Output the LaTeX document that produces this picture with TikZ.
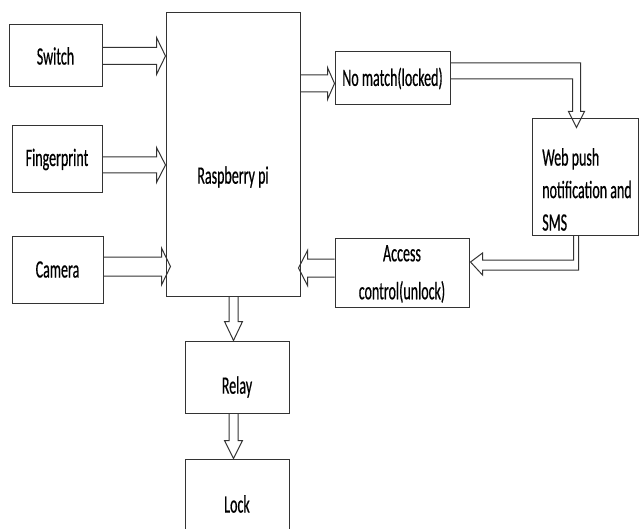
\documentclass[tikz,border=0pt]{standalone}
\usepackage{fontspec}
\setmainfont[FakeStretch=0.56, FakeBold=0.5]{Carlito}
\usetikzlibrary{calc,positioning}

% hollow block arrow: tail, tip, shaft half width, head half width, head length
\newcommand{\blockarrow}[5]{%
  \coordinate (ba_h) at ($(#2)!#5!(#1)$);
  \draw[blk] ($(#1)!#3!90:(#2)$) -- ($(ba_h)!#3!-90:(#1)$) -- ($(ba_h)!#4!-90:(#1)$) -- (#2)
    -- ($(ba_h)!#4!90:(#1)$) -- ($(ba_h)!#3!90:(#1)$) -- ($(#1)!#3!-90:(#2)$);
}

\begin{document}
\begin{tikzpicture}[x=1pt, y=-1pt, font=\fontsize{25}{29}\selectfont,
    box/.style={draw=black!80, line width=1pt},
    blk/.style={draw=black!80, line width=1pt, line join=miter}]
      \useasboundingbox (0,0) rectangle (639,529);

      % inputs
      \node[box, minimum width=93pt, minimum height=62pt] (sw) at (55.5,56) {Switch};
      \node[box, minimum width=90pt, minimum height=67pt] (fp) at (57,159.5) {Fingerprint};
      \node[box, minimum width=91pt, minimum height=67pt] (cam) at (57.5,269.5) {Camera};

      \node[box, minimum width=134pt, minimum height=283pt,
        label={[yshift=-22.5pt]center:Raspberry pi}] (rpi) at (233,154.5) {};

      % right side
      \node[box, minimum width=115pt, minimum height=53pt] (nm) at (392.5,78.5) {No match(locked)};
      \node[box, minimum width=106pt, minimum height=116pt,
        label={[yshift=-12.5pt, xshift=2pt, align=left, font=\fontsize{25}{32.5}\selectfont]center:Web push\\notification and\\SMS}] (wp) at (585,177) {};
      \node[box, minimum width=134pt, minimum height=69pt,
        label={[yshift=-1.5pt, align=center, font=\fontsize{25}{38}\selectfont]center:Access\\control(unlock)}] (ac) at (402,272.5) {};

      % outputs
      \node[box, minimum width=104pt, minimum height=72pt,
        label={[yshift=-10pt]center:Relay}] (relay) at (237,377) {};
      \node[box, minimum width=104pt, minimum height=90pt] (lock) at (237,504) {Lock};

      \coordinate (sw_in) at (rpi.west |- sw.east);
      \coordinate (fp_out) at ($(fp.east)+(0,5.5)$);
      \coordinate (fp_in) at (rpi.west |- fp_out);
      \coordinate (cam_out) at ($(cam.east)+(0,-3)$);
      \coordinate (cam_in) at ($(rpi.west |- cam_out)+(5,0)$);
      \coordinate (nm_in) at ($(nm.west)+(0,5)$);
      \coordinate (rpi_out) at (rpi.east |- nm_in);
      \coordinate (ac_out) at ($(ac.west)+(0,-4.5)$);
      \coordinate (rpi_in) at ($(rpi.east |- ac_out)+(-2,0)$);
      \coordinate (rpi_down) at ($(rpi.south)+(0.5,0)$);
      \coordinate (relay_in) at (relay.north -| rpi_down);
      \coordinate (relay_out) at (relay.south -| rpi_down);
      \coordinate (lock_in) at (lock.north -| rpi_down);

      \blockarrow{sw.east}{sw_in}{8.5pt}{18.5pt}{9pt}
      \blockarrow{fp_out}{fp_in}{8pt}{17.5pt}{9pt}
      \blockarrow{cam_out}{cam_in}{9.5pt}{18.5pt}{9pt}
      \blockarrow{rpi_out}{nm_in}{8.5pt}{16pt}{7pt}
      \blockarrow{ac_out}{rpi_in}{9pt}{17.5pt}{9pt}
      \blockarrow{rpi_down}{relay_in}{4.5pt}{9pt}{19pt}
      \blockarrow{relay_out}{lock_in}{4.5pt}{9pt}{18pt}

      % elbow arrows
      \draw[blk] ($(nm.east)+(0,-15.5)$) -| ($(wp.north west)+(49,-7)$) -- ++(4,0)
        -- ($(wp.north west)+(45,9)$) -- ++(-8,-16) -- ++(4,0) |- ($(nm.east)+(0,0.5)$);
      \draw[blk] ($(wp.south west)+(47,0)$) |- ($(ac.east)+(13,-2.5)$) -- ++(0,5)
        -- ($(ac.east)+(1,-10.5)$) -- ++(12,-9) -- ++(0,7) -| ($(wp.south west)+(42,0)$);
    \end{tikzpicture}
\end{document}
